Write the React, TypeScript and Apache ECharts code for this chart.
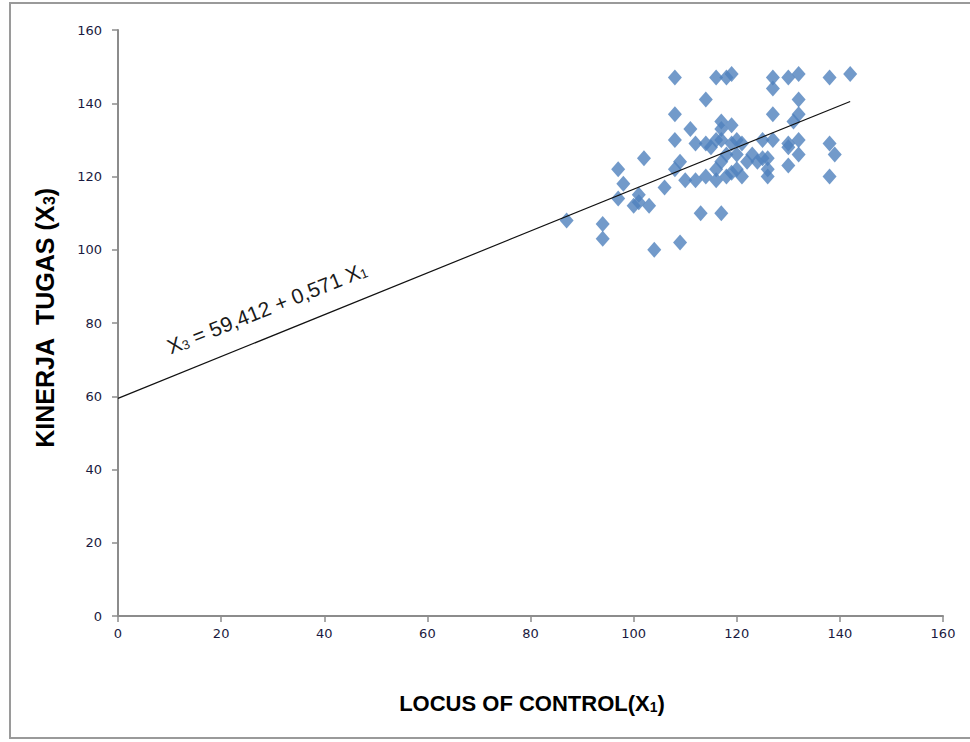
import React, { useEffect, useRef } from "react";
import * as echarts from "echarts";

const xTicks = [0, 20, 40, 60, 80, 100, 120, 140, 160];
const yTicks = [0, 20, 40, 60, 80, 100, 120, 140, 160];

const locusOfControl = [
  87, 94, 94, 97, 97, 98, 100, 101, 101, 102, 103, 104, 106, 108, 108, 108, 108, 109, 109, 110,
  111, 112, 112, 113, 114, 114, 114, 115, 116, 116, 116, 116, 117, 117, 117, 117, 117, 118, 118, 118,
  119, 119, 119, 119, 120, 120, 120, 121, 121, 122, 123, 124, 125, 125, 126, 126, 126, 127, 127, 127,
  127, 130, 130, 130, 130, 131, 132, 132, 132, 132, 132, 138, 138, 138, 139, 142,
];
const kinerjaTugas = [
  108, 107, 103, 122, 114, 118, 112, 115, 113, 125, 112, 100, 117, 147, 137, 130, 122, 124, 102, 119,
  133, 129, 119, 110, 141, 129, 120, 128, 147, 130, 122, 119, 135, 133, 130, 110, 124, 147, 120, 126,
  148, 134, 129, 121, 130, 126, 122, 129, 120, 124, 126, 124, 130, 125, 125, 120, 122, 147, 144, 137,
  130, 147, 129, 128, 123, 135, 148, 141, 137, 130, 126, 147, 129, 120, 126, 148,
];

const intercept = 59.412;
const slope = 0.571;
const lineRange = [0, 142];

export default function App() {
  const ref = useRef<HTMLDivElement>(null);
  useEffect(() => {
    if (!ref.current) return;
    const chart = echarts.init(ref.current, null, { renderer: "svg" });
    const points = locusOfControl.map((x, i) => [x, kinerjaTugas[i]]);
    const regLine = lineRange.map((x) => [x, intercept + slope * x]);
    const labelStyle = {
      color: "#1a1a40",
      fontFamily: "DejaVu Sans",
      fontSize: 13,
    };
    chart.setOption({
      animation: false,
      backgroundColor: "#ffffff",
      grid: { left: 118, right: 27, top: 30, bottom: 126, containLabel: false },
      xAxis: {
        type: "value",
        min: 0,
        max: 160,
        interval: 20,
        axisLine: { show: true, lineStyle: { color: "#8c8c8c", width: 2 } },
        axisTick: { show: true, length: 6, lineStyle: { color: "#8c8c8c", width: 1.5 } },
        splitLine: { show: false },
        axisLabel: {
          ...labelStyle,
          margin: 11,
          formatter: (v: number) => (xTicks.includes(v) ? String(v) : ""),
        },
      },
      yAxis: {
        type: "value",
        min: 0,
        max: 160,
        interval: 20,
        axisLine: { show: true, lineStyle: { color: "#8c8c8c", width: 2 } },
        axisTick: { show: true, length: 6, lineStyle: { color: "#8c8c8c", width: 1.5 } },
        splitLine: { show: false },
        axisLabel: {
          ...labelStyle,
          margin: 16,
          formatter: (v: number) => (yTicks.includes(v) ? String(v) : ""),
        },
      },
      series: [
        {
          type: "scatter",
          data: points,
          symbol: "diamond",
          symbolSize: [14, 16],
          itemStyle: { color: "#4f81bd" },
          z: 2,
        },
        {
          type: "line",
          data: regLine,
          showSymbol: false,
          symbol: "none",
          lineStyle: { color: "#111111", width: 1.2 },
          z: 3,
        },
      ],
      graphic: [
        {
          type: "rect",
          shape: { x: 10, y: 3, width: 980, height: 735 },
          style: { fill: "none", stroke: "#9a9a9a", lineWidth: 2 },
          silent: true,
          z: -1,
        },
        {
          type: "text",
          x: 45,
          y: 318,
          rotation: Math.PI / 2,
          style: {
            text: "{a|KINERJA  TUGAS (X}{s|3}{a|)}",
            align: "center",
            verticalAlign: "middle",
            rich: {
              a: { fontFamily: "Liberation Sans", fontWeight: "bold", fontSize: 25, fill: "#000" },
              s: { fontFamily: "Liberation Sans", fontWeight: "bold", fontSize: 16, fill: "#000", padding: [9, 0, 0, 0] },
            },
          },
        },
        {
          type: "text",
          x: 532,
          y: 703,
          style: {
            text: "{a|LOCUS OF CONTROL(X}{s|1}{a|)}",
            align: "center",
            verticalAlign: "middle",
            rich: {
              a: { fontFamily: "Liberation Sans", fontWeight: "bold", fontSize: 22, fill: "#000" },
              s: { fontFamily: "Liberation Sans", fontWeight: "bold", fontSize: 14, fill: "#000", padding: [8, 0, 0, 0] },
            },
          },
        },
        {
          type: "text",
          x: 267,
          y: 308,
          rotation: 0.38,
          style: {
            text: "{a|X}{s|3}{a| = 59,412 + 0,571 X}{s|1}",
            align: "center",
            verticalAlign: "middle",
            rich: {
              a: { fontFamily: "Liberation Sans", fontSize: 21, fill: "#1a1a1a" },
              s: { fontFamily: "Liberation Sans", fontSize: 13, fill: "#1a1a1a", padding: [8, 0, 0, 0] },
            },
          },
        },
      ],
    });
    return () => chart.dispose();
  }, []);
  return (
    <div
      ref={ref}
      style={{ position: "absolute", left: 0, top: 0, width: 970, height: 742 }}
    />
  );
}
